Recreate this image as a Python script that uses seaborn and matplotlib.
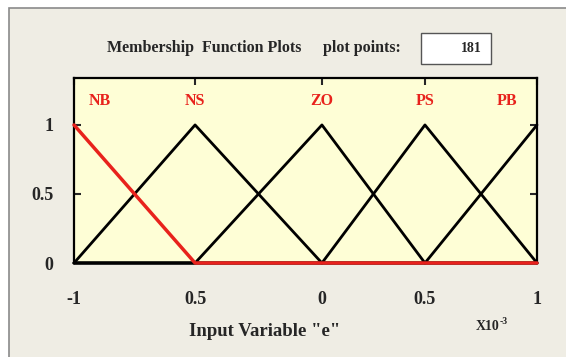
import numpy as np
import pandas as pd
import matplotlib
matplotlib.use('Agg')
import matplotlib.pyplot as plt
from matplotlib.patches import Rectangle
import seaborn as sns

# breakpoints of the triangular membership functions
x_points = [-1.0, -0.477, 0.071, 0.516, 1.0]
mf_names = ['NB', 'NS', 'ZO', 'PS', 'PB']
nb = [1, 0, 0, 0, 0]
ns = [0, 1, 0, 0, 0]
zo = [0, 0, 1, 0, 0]
ps = [0, 0, 0, 1, 0]
pb = [0, 0, 0, 0, 1]
tick_labels = ['-1', '0.5', '0', '0.5', '1']
y_ticks = [0, 0.5, 1]
y_tick_labels = ['0', '0.5', '1']
plot_points = 181

sns.set_style('white')
plt.rcParams['font.family'] = ['Liberation Serif', 'DejaVu Serif']
plt.rcParams['font.weight'] = 'bold'

RED = '#e8221c'
PANEL = '#efede4'
AXBG = '#fefed6'

fig = plt.figure(figsize=(5.66, 3.57), dpi=100)
fig.patch.set_facecolor('white')

W, H = 566, 357
def fx(px):
    return px / W
def fy(py):
    return 1 - py / H

# grey panel behind everything
fig.patches.append(Rectangle((fx(9), -0.01), 1 - fx(9) + 0.01, fy(8) + 0.01, transform=fig.transFigure,
                             facecolor=PANEL, edgecolor='#8a8a8a', linewidth=1.2, zorder=-2))

ax = fig.add_axes([fx(74), fy(263), fx(537) - fx(74), fy(78) - fy(263)])
ax.set_zorder(2)
ax.set_facecolor(AXBG)

frames = []
for name, vals in zip(mf_names, [nb, ns, zo, ps, pb]):
    frames.append(pd.DataFrame({'x': x_points, 'mu': vals, 'mf': name}))
df = pd.concat(frames, ignore_index=True)

black_df = df[df['mf'] != 'NB']
sns.lineplot(data=black_df, x='x', y='mu', units='mf', estimator=None, color='black',
             linewidth=2.0, ax=ax, legend=False, zorder=3, clip_on=False)
sns.lineplot(data=df[df['mf'] == 'NB'], x='x', y='mu', color=RED, linewidth=2.5,
             ax=ax, legend=False, zorder=4, clip_on=False)

# MF names in red above the peaks
label_x = [x_points[0] + 0.11, x_points[1], x_points[2], x_points[3], x_points[4] - 0.13]
for lx, name in zip(label_x, mf_names):
    ax.text(lx, 1.17, name, color=RED, fontsize=11.5, fontweight='bold', ha='center', va='center')

ax.set_xlim(-1, 1)
ax.set_ylim(0, 1.34)
ax.set_xticks(x_points)
ax.set_xticklabels(tick_labels)
ax.set_yticks(y_ticks)
ax.set_yticklabels(y_tick_labels)
ax.tick_params(axis='x', bottom=False, top=True, direction='in', length=5, width=1.5,
               pad=20, labelsize=13)
ax.tick_params(axis='y', left=True, right=True, direction='in', length=5, width=1.5,
               pad=15, labelsize=13)
ax.set_xlabel('')
ax.set_ylabel('')
for s in ax.spines.values():
    s.set_color('black')
    s.set_linewidth(1.6)

# header text and plot-points box
fig.text(fx(107), fy(48), 'Membership  Function Plots', fontsize=11.5, fontweight='bold',
         ha='left', va='center')
fig.text(fx(323), fy(48), 'plot points:', fontsize=11.5, fontweight='bold', ha='left', va='center')
fig.patches.append(Rectangle((fx(421), fy(64)), fx(491) - fx(421), fy(33) - fy(64),
                             transform=fig.transFigure, facecolor='white',
                             edgecolor='#555555', linewidth=1.0, zorder=1))
fig.text(fx(482), fy(48), str(plot_points), fontsize=10, fontweight='bold', ha='right', va='center')

# axis label and exponent
fig.text(fx(265), fy(331), 'Input Variable "e"', fontsize=13.5, fontweight='bold',
         ha='center', va='center')
fig.text(fx(476), fy(326), 'X10', fontsize=10, fontweight='bold', ha='left', va='center')
fig.text(fx(500), fy(321), '-3', fontsize=7, fontweight='bold', ha='left', va='center')

fig.savefig('out.png', dpi=100, facecolor=fig.get_facecolor())
